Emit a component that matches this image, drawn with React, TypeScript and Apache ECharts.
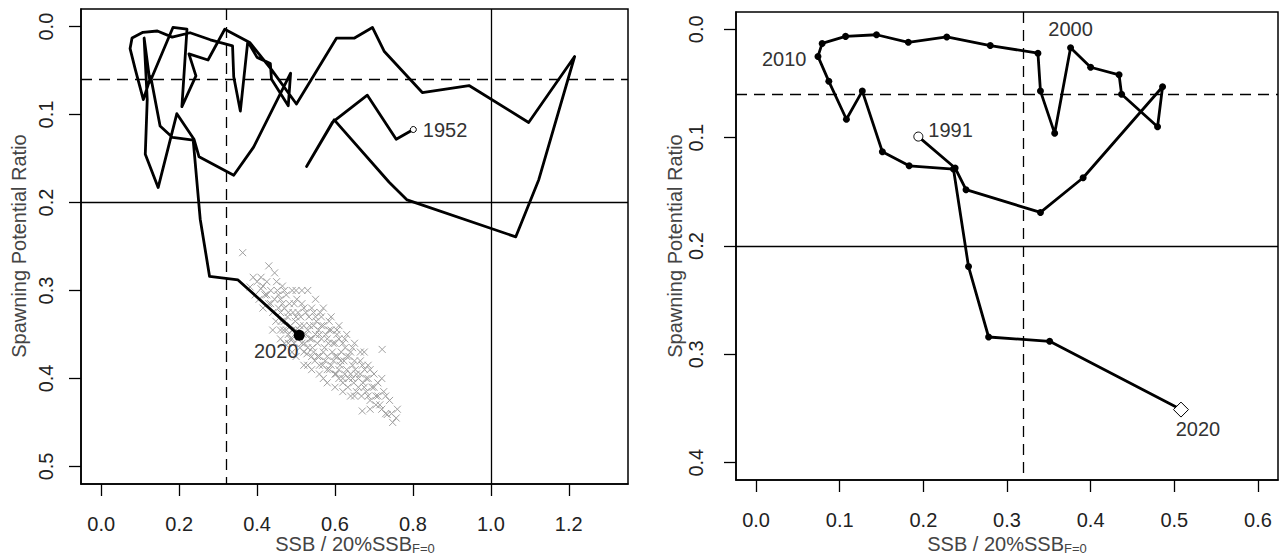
import React, { useEffect, useRef } from 'react';
import * as echarts from 'echarts';

const FONT = '"Liberation Sans", Arial, Helvetica, sans-serif';

// Trajectory 1952–1990 (left panel only)
const earlyX = [0.801, 0.757, 0.683, 0.593, 0.527, 0.598, 0.739, 0.785, 1.064, 1.123, 1.215, 1.097, 0.944, 0.824, 0.726, 0.696, 0.650, 0.604, 0.501, 0.437, 0.381, 0.317, 0.274, 0.225, 0.243, 0.207, 0.220, 0.184, 0.125, 0.110, 0.118, 0.113, 0.146];
const earlyY = [0.117, 0.128, 0.078, 0.109, 0.159, 0.106, 0.177, 0.197, 0.239, 0.174, 0.034, 0.109, 0.067, 0.075, 0.028, 0.001, 0.013, 0.013, 0.088, 0.049, 0.018, 0.003, 0.038, 0.031, 0.056, 0.091, 0.003, 0.001, 0.063, 0.013, 0.083, 0.145, 0.183];

// Trajectory 1991–2020 (both panels)
const recentX = [0.194, 0.238, 0.251, 0.340, 0.391, 0.486, 0.480, 0.437, 0.434, 0.400, 0.376, 0.357, 0.340, 0.337, 0.280, 0.228, 0.182, 0.144, 0.107, 0.079, 0.074, 0.087, 0.108, 0.127, 0.151, 0.183, 0.236, 0.254, 0.278, 0.351, 0.508];
const recentY = [0.099, 0.128, 0.148, 0.169, 0.137, 0.053, 0.090, 0.060, 0.042, 0.035, 0.017, 0.096, 0.057, 0.022, 0.015, 0.007, 0.012, 0.005, 0.0065, 0.013, 0.025, 0.048, 0.083, 0.057, 0.113, 0.126, 0.129, 0.219, 0.284, 0.288, 0.351];

// Uncertainty cloud for 2020 (left panel)
const cloudX = [0.363, 0.382, 0.390, 0.395, 0.400, 0.405, 0.410, 0.415, 0.420, 0.425, 0.430, 0.435, 0.440, 0.445, 0.445, 0.448, 0.452, 0.455, 0.460, 0.462, 0.465, 0.468, 0.470, 0.475, 0.478, 0.480, 0.483, 0.486, 0.490, 0.492, 0.495, 0.498, 0.502, 0.505, 0.508, 0.510, 0.512, 0.515, 0.518, 0.520, 0.522, 0.525, 0.528, 0.530, 0.533, 0.536, 0.540, 0.542, 0.545, 0.548, 0.550, 0.552, 0.555, 0.558, 0.560, 0.562, 0.565, 0.568, 0.570, 0.573, 0.576, 0.580, 0.583, 0.586, 0.590, 0.593, 0.596, 0.600, 0.603, 0.606, 0.610, 0.613, 0.616, 0.620, 0.623, 0.626, 0.630, 0.633, 0.636, 0.640, 0.645, 0.648, 0.652, 0.655, 0.660, 0.665, 0.668, 0.672, 0.676, 0.680, 0.685, 0.690, 0.695, 0.670, 0.700, 0.705, 0.710, 0.715, 0.721, 0.725, 0.730, 0.734, 0.740, 0.757, 0.760, 0.748, 0.500, 0.520, 0.540, 0.560, 0.580, 0.600, 0.620, 0.640, 0.530, 0.550, 0.570, 0.590, 0.610, 0.630, 0.650, 0.675, 0.470, 0.490, 0.440, 0.460, 0.430, 0.410,
  0.455, 0.460, 0.465, 0.470, 0.475, 0.480, 0.485, 0.490, 0.495, 0.500, 0.505, 0.510, 0.515, 0.520, 0.525, 0.530, 0.535, 0.540, 0.545, 0.550, 0.555, 0.560, 0.565, 0.570, 0.575, 0.580, 0.585, 0.590, 0.595, 0.600, 0.605, 0.610, 0.615, 0.620, 0.625, 0.630, 0.635, 0.640, 0.645, 0.650, 0.655, 0.660, 0.665, 0.670, 0.675, 0.680, 0.685, 0.690, 0.700, 0.710, 0.720, 0.520, 0.540, 0.560, 0.580, 0.600, 0.620, 0.500, 0.490, 0.470, 0.500, 0.515, 0.545, 0.565, 0.585, 0.605, 0.625, 0.645, 0.665, 0.685, 0.435, 0.425, 0.415, 0.450, 0.460, 0.480, 0.530, 0.570, 0.610, 0.650, 0.690, 0.730, 0.745, 0.720, 0.705];
const cloudY = [0.257, 0.296, 0.285, 0.305, 0.290, 0.310, 0.298, 0.320, 0.305, 0.290, 0.315, 0.300, 0.325, 0.280, 0.310, 0.335, 0.300, 0.320, 0.310, 0.335, 0.295, 0.345, 0.320, 0.305, 0.330, 0.350, 0.315, 0.340, 0.300, 0.325, 0.360, 0.335, 0.310, 0.325, 0.345, 0.365, 0.330, 0.315, 0.350, 0.340, 0.360, 0.325, 0.372, 0.345, 0.330, 0.355, 0.320, 0.365, 0.340, 0.380, 0.350, 0.335, 0.360, 0.345, 0.375, 0.325, 0.355, 0.385, 0.340, 0.365, 0.350, 0.375, 0.360, 0.390, 0.345, 0.370, 0.380, 0.360, 0.395, 0.375, 0.355, 0.385, 0.370, 0.400, 0.380, 0.365, 0.390, 0.410, 0.375, 0.395, 0.385, 0.405, 0.390, 0.415, 0.400, 0.380, 0.420, 0.405, 0.390, 0.415, 0.400, 0.425, 0.410, 0.437, 0.395, 0.420, 0.405, 0.430, 0.367, 0.415, 0.440, 0.441, 0.425, 0.445, 0.435, 0.450, 0.375, 0.385, 0.390, 0.395, 0.405, 0.410, 0.415, 0.420, 0.300, 0.310, 0.320, 0.330, 0.340, 0.350, 0.360, 0.370, 0.360, 0.370, 0.345, 0.355, 0.272, 0.285,
  0.305, 0.325, 0.315, 0.335, 0.345, 0.325, 0.355, 0.345, 0.315, 0.330, 0.355, 0.340, 0.360, 0.320, 0.350, 0.365, 0.340, 0.355, 0.370, 0.330, 0.375, 0.350, 0.340, 0.370, 0.380, 0.355, 0.345, 0.385, 0.360, 0.375, 0.350, 0.390, 0.380, 0.360, 0.395, 0.375, 0.400, 0.370, 0.400, 0.380, 0.395, 0.410, 0.395, 0.385, 0.410, 0.400, 0.420, 0.390, 0.410, 0.420, 0.435, 0.370, 0.375, 0.385, 0.390, 0.395, 0.405, 0.345, 0.355, 0.300, 0.300, 0.300, 0.325, 0.330, 0.335, 0.345, 0.355, 0.365, 0.370, 0.385, 0.315, 0.305, 0.295, 0.290, 0.345, 0.360, 0.385, 0.400, 0.400, 0.420, 0.435, 0.420, 0.440, 0.400, 0.430];

// Reference points
const ssbTarget = 0.316;
const ssbLimit = 1.0;
const sprTarget = 0.063;
const sprLimit = 0.2;

// Tick labels
const leftXTicks = [0, 0.2, 0.4, 0.6, 0.8, 1.0, 1.2];
const leftYTicks = [0, 0.1, 0.2, 0.3, 0.4, 0.5];
const rightXTicks = [0, 0.1, 0.2, 0.3, 0.4, 0.5, 0.6];
const rightYTicks = [0, 0.1, 0.2, 0.3, 0.4];

const firstYearLeft = '1952';
const firstYearRight = '1991';
const lastYear = '2020';
const midYearLabels = [
  { index: 10, text: '2000' },
  { index: 20, text: '2010' },
];

const yTitle = 'Spawning Potential Ratio';

export default function App() {
  const ref = useRef<HTMLDivElement>(null);

  useEffect(() => {
    const chart = echarts.init(ref.current!, null, { renderer: 'svg' });

    const early = earlyX.map((x, i) => [x, earlyY[i]]);
    const recent = recentX.map((x, i) => [x, recentY[i]]);
    const leftPath = [...early, ...recent];
    const cloud = cloudX.map((x, i) => [x, cloudY[i]]);
    const last = recent[recent.length - 1];

    const fmt = (v: number) => (Math.round(v * 10) / 10).toFixed(1);

    const xAxisBase = (grid: number, min: number, max: number, ticks: number[]) => ({
      gridIndex: grid,
      type: 'value',
      min,
      max,
      axisLine: { show: true, onZero: false, lineStyle: { color: '#000', width: 1.5 } },
      splitLine: { show: false },
      axisTick: { show: true, length: 12, lineStyle: { color: '#000', width: 1.3 }, customValues: ticks },
      axisLabel: {
        customValues: ticks,
        formatter: fmt,
        fontSize: 20,
        fontFamily: FONT,
        color: '#222',
        margin: 30,
      },
    });

    const yAxisBase = (grid: number, min: number, max: number, ticks: number[], margin: number) => ({
      gridIndex: grid,
      type: 'value',
      inverse: true,
      min,
      max,
      axisLine: { show: true, onZero: false, lineStyle: { color: '#000', width: 1.5 } },
      splitLine: { show: false },
      axisTick: { show: true, length: 12, lineStyle: { color: '#000', width: 1.3 }, customValues: ticks },
      axisLabel: {
        customValues: ticks,
        formatter: fmt,
        rotate: 90,
        fontSize: 20,
        fontFamily: FONT,
        color: '#222',
        margin,
      },
    });

    const refLine = (dashed: boolean) => ({
      color: '#000',
      width: 1.3,
      type: dashed ? [11, 7] : 'solid',
    });

    const yearLabel = {
      show: true,
      fontSize: 20,
      fontFamily: FONT,
      color: '#333',
    };

    const rightData = recent.map((p, i) => {
      const m = midYearLabels.find((l) => l.index === i);
      if (!m) return p;
      const isTop = m.text === '2000';
      return {
        value: p,
        label: {
          ...yearLabel,
          formatter: m.text,
          position: isTop ? 'top' : 'left',
          distance: isTop ? 5 : 8,
          offset: isTop ? [0, 0] : [0, 3],
        },
      };
    });

    const option: any = {
      animation: false,
      backgroundColor: '#fff',
      grid: [
        { left: 81, top: 9, width: 547, height: 475, show: true, borderColor: '#000', borderWidth: 1.5, backgroundColor: 'transparent' },
        { left: 736, top: 12, width: 542, height: 468, show: true, borderColor: '#000', borderWidth: 1.5, backgroundColor: 'transparent' },
      ],
      xAxis: [xAxisBase(0, -0.052, 1.352, leftXTicks), xAxisBase(1, -0.024, 0.624, rightXTicks)],
      yAxis: [yAxisBase(0, -0.02, 0.52, leftYTicks, 25), yAxisBase(1, -0.016, 0.416, rightYTicks, 30)],
      series: [
        {
          type: 'scatter',
          xAxisIndex: 0,
          yAxisIndex: 0,
          data: cloud,
          symbol: 'path://M0,0L10,10M0,10L10,0',
          symbolSize: 7,
          itemStyle: { color: 'transparent', borderColor: '#a0a0a0', borderWidth: 1, opacity: 1 },
          silent: true,
          z: 1,
        },
        {
          type: 'line',
          xAxisIndex: 0,
          yAxisIndex: 0,
          data: leftPath,
          showSymbol: false,
          lineStyle: { color: '#000', width: 2.8, join: 'round', cap: 'round' },
          silent: true,
          z: 3,
          markLine: {
            silent: true,
            symbol: ['none', 'none'],
            label: { show: false },
            data: [
              { xAxis: ssbTarget, lineStyle: refLine(true) },
              { xAxis: ssbLimit, lineStyle: refLine(false) },
              { yAxis: sprTarget, lineStyle: refLine(true) },
              { yAxis: sprLimit, lineStyle: refLine(false) },
            ],
          },
        },
        {
          type: 'scatter',
          xAxisIndex: 0,
          yAxisIndex: 0,
          z: 5,
          silent: true,
          data: [
            {
              value: early[0],
              symbol: 'circle',
              symbolSize: 6,
              itemStyle: { color: '#fff', borderColor: '#000', borderWidth: 1, opacity: 1 },
              label: { ...yearLabel, formatter: firstYearLeft, position: 'right', distance: 6 },
            },
            {
              value: last,
              symbol: 'circle',
              symbolSize: 11,
              itemStyle: { color: '#000', opacity: 1 },
              label: { ...yearLabel, formatter: lastYear, position: 'bottom', distance: 0, offset: [-23, 0] },
            },
          ],
        },
        {
          type: 'line',
          xAxisIndex: 1,
          yAxisIndex: 1,
          data: rightData,
          showSymbol: true,
          showAllSymbol: true,
          symbol: 'circle',
          symbolSize: 7,
          itemStyle: { color: '#000' },
          lineStyle: { color: '#000', width: 2.8, join: 'round', cap: 'round' },
          silent: true,
          z: 3,
          markLine: {
            silent: true,
            symbol: ['none', 'none'],
            label: { show: false },
            data: [
              { xAxis: ssbTarget, lineStyle: refLine(true) },
              { yAxis: sprTarget, lineStyle: refLine(true) },
              { yAxis: sprLimit, lineStyle: refLine(false) },
            ],
          },
        },
        {
          type: 'scatter',
          xAxisIndex: 1,
          yAxisIndex: 1,
          z: 5,
          silent: true,
          data: [
            {
              value: recent[0],
              symbol: 'circle',
              symbolSize: 9,
              itemStyle: { color: '#fff', borderColor: '#000', borderWidth: 1, opacity: 1 },
              label: { ...yearLabel, formatter: firstYearRight, position: 'right', distance: 5, offset: [0, -7] },
            },
            {
              value: last,
              symbol: 'diamond',
              symbolSize: 15,
              itemStyle: { color: '#fff', borderColor: '#000', borderWidth: 1, opacity: 1 },
              label: { ...yearLabel, formatter: lastYear, position: 'bottom', distance: 1, offset: [17, 0] },
            },
          ],
        },
      ],
      graphic: [
        {
          type: 'text',
          x: 19,
          y: 246,
          rotation: Math.PI / 2,
          style: { text: yTitle, fill: '#444', fontSize: 20, fontFamily: FONT, align: 'center', verticalAlign: 'middle' },
        },
        {
          type: 'text',
          x: 675,
          y: 246,
          rotation: Math.PI / 2,
          style: { text: yTitle, fill: '#444', fontSize: 20, fontFamily: FONT, align: 'center', verticalAlign: 'middle' },
        },
        ...[355, 1007].map((cx) => ({
          type: 'text',
          x: cx,
          y: 544,
          style: {
            text: '{a|SSB / 20%SSB}{b|F=0}',
            align: 'center',
            verticalAlign: 'middle',
            rich: {
              a: { fontSize: 20, fontFamily: FONT, fill: '#444', lineHeight: 22, verticalAlign: 'middle' },
              b: { fontSize: 13, fontFamily: FONT, fill: '#444', lineHeight: 22, verticalAlign: 'bottom' },
            },
          },
        })),
      ],
    };

    chart.setOption(option);
    return () => chart.dispose();
  }, []);

  return (
    <div
      ref={ref}
      style={{ position: 'fixed', left: 0, top: 0, width: 1281, height: 558, background: '#fff' }}
    />
  );
}
